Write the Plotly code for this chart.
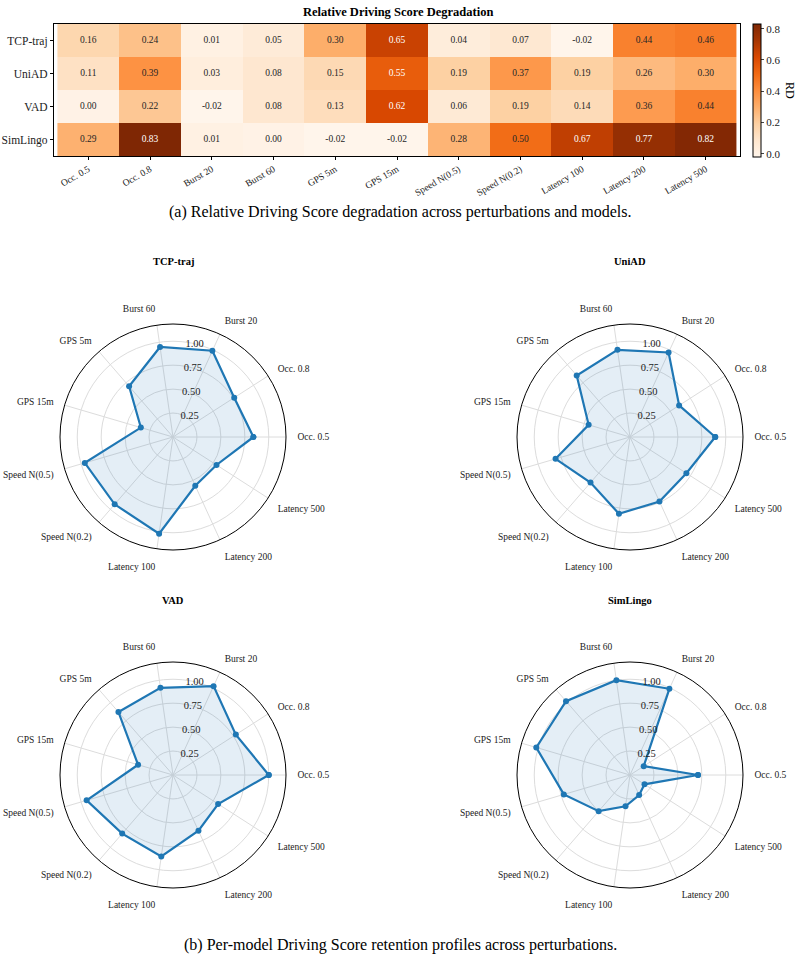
import plotly.graph_objects as go

FONT = "Liberation Serif"

perturbations = ["Occ. 0.5", "Occ. 0.8", "Burst 20", "Burst 60", "GPS 5m", "GPS 15m",
                 "Speed N(0.5)", "Speed N(0.2)", "Latency 100", "Latency 200", "Latency 500"]
models = ["TCP-traj", "UniAD", "VAD", "SimLingo"]

# Relative Driving Score degradation (heatmap)
rd_tcp = [0.16, 0.24, 0.01, 0.05, 0.30, 0.65, 0.04, 0.07, -0.02, 0.44, 0.46]
rd_uniad = [0.11, 0.39, 0.03, 0.08, 0.15, 0.55, 0.19, 0.37, 0.19, 0.26, 0.30]
rd_vad = [0.00, 0.22, -0.02, 0.08, 0.13, 0.62, 0.06, 0.19, 0.14, 0.36, 0.44]
rd_simlingo = [0.29, 0.83, 0.01, 0.00, -0.02, -0.02, 0.28, 0.50, 0.67, 0.77, 0.82]

# Driving Score retention (radar)
ret_tcp = [0.84, 0.76, 0.99, 0.95, 0.70, 0.35, 0.96, 0.93, 1.02, 0.56, 0.54]
ret_uniad = [0.89, 0.61, 0.97, 0.92, 0.85, 0.45, 0.81, 0.63, 0.81, 0.74, 0.70]
ret_vad = [1.00, 0.78, 1.02, 0.92, 0.87, 0.38, 0.94, 0.81, 0.86, 0.64, 0.56]
ret_simlingo = [0.71, 0.17, 0.99, 1.00, 1.02, 1.02, 0.72, 0.50, 0.33, 0.23, 0.18]

radial_ticks = [0.25, 0.50, 0.75, 1.00]
cbar_ticks = [0.0, 0.2, 0.4, 0.6, 0.8]

rd_rows = [rd_tcp, rd_uniad, rd_vad, rd_simlingo]
ret_rows = [ret_tcp, ret_uniad, ret_vad, ret_simlingo]

W, H = 800, 965
def py(px):
    return 1 - px / H

fig = go.Figure()

zmin = min(min(r) for r in rd_rows)
zmax = max(max(r) for r in rd_rows)

fig.add_trace(go.Heatmap(
    z=rd_rows, x=perturbations, y=models,
    colorscale="Oranges", zmin=zmin, zmax=zmax,
    xaxis="x", yaxis="y",
    colorbar=dict(
        x=753 / W, xanchor="left", xpad=0, ypad=0, thickness=8, thicknessmode="pixels",
        len=133 / H, lenmode="fraction", y=py(24), yanchor="top",
        outlinecolor="black", outlinewidth=1,
        ticks="outside", ticklen=3, tickvals=cbar_ticks, tickformat=".1f",
        tickfont=dict(family=FONT, size=11, color="#222"),
    ),
    hoverinfo="skip",
))

# cell labels
tx, ty, tt, tc = [], [], [], []
for m, row in zip(models, rd_rows):
    for p, v in zip(perturbations, row):
        tx.append(p); ty.append(m); tt.append(f"{v:.2f}")
        tc.append("white" if v > 0.52 else "#262626")
fig.add_trace(go.Scatter(
    x=tx, y=ty, text=tt, mode="text",
    textfont=dict(family=FONT, size=9.5, color=tc),
    xaxis="x", yaxis="y", showlegend=False, hoverinfo="skip",
))

fig.update_layout(
    xaxis=dict(domain=[54 / W, 740 / W], anchor="y", tickangle=-30,
               tickfont=dict(family=FONT, size=9.5, color="#222"),
               showline=True, mirror=True, linecolor="black", linewidth=1.2,
               ticks="outside", ticklen=3, tickcolor="black", showgrid=False, zeroline=False,
               categoryorder="array", categoryarray=perturbations),
    yaxis=dict(domain=[py(156), py(24)], anchor="x", autorange="reversed",
               tickfont=dict(family=FONT, size=11.5, color="#222"),
               showline=True, mirror=True, linecolor="black", linewidth=1.2,
               ticks="outside", ticklen=3, tickcolor="black", showgrid=False, zeroline=False,
               categoryorder="array", categoryarray=models),
)

# radar charts
centers = [(173, 437), (630, 437), (173, 775), (630, 775)]
R = 113
RMAX = 1.18
polar_names = ["polar", "polar2", "polar3", "polar4"]
annotations = []
for i, (m, vals) in enumerate(zip(models, ret_rows)):
    cx, cy = centers[i]
    name = polar_names[i]
    theta = perturbations + perturbations[:1]
    r = vals + vals[:1]
    fig.add_trace(go.Scatterpolar(
        r=r, theta=theta, mode="lines+markers", fill="toself",
        fillcolor="rgba(31,119,180,0.12)",
        line=dict(color="#1f77b4", width=2.2),
        marker=dict(color="#1f77b4", size=6),
        subplot=name, showlegend=False, hoverinfo="skip",
    ))
    fig.layout[name] = dict(
        domain=dict(x=[(cx - R) / W, (cx + R) / W], y=[py(cy + R), py(cy - R)]),
        bgcolor="white",
        angularaxis=dict(rotation=0, direction="counterclockwise",
                         categoryorder="array", categoryarray=perturbations,
                         showline=True, linecolor="black", linewidth=1,
                         gridcolor="#dcdcdc", gridwidth=0.8,
                         ticks="outside", ticklen=9, tickcolor="rgba(0,0,0,0)",
                         tickfont=dict(family=FONT, size=9.5, color="#222")),
        radialaxis=dict(range=[0, RMAX], tickvals=radial_ticks, tickformat=".2f",
                        angle=86, tickangle=86, side="clockwise",
                        showline=False, ticks="", gridcolor="#dcdcdc", gridwidth=0.8,
                        tickfont=dict(family=FONT, size=10.5, color="#222")),
    )
    annotations.append(dict(x=cx / W, y=py(cy - 175), xref="paper", yref="paper",
                            xanchor="center", yanchor="middle",
                            text=f"<b>{m}</b>", showarrow=False,
                            font=dict(family=FONT, size=10.5, color="black")))

annotations += [
    dict(x=398 / W, y=py(12), xref="paper", yref="paper", xanchor="center", yanchor="middle",
         text="<b>Relative Driving Score Degradation</b>", showarrow=False,
         font=dict(family=FONT, size=12.5, color="black")),
    dict(x=790 / W, y=py(90), xref="paper", yref="paper", xanchor="center", yanchor="middle",
         text="RD", textangle=90,
         showarrow=False, font=dict(family=FONT, size=12, color="black")),
    dict(x=400 / W, y=py(212), xref="paper", yref="paper", xanchor="center", yanchor="middle",
         text="(a) Relative Driving Score degradation across perturbations and models.",
         showarrow=False, font=dict(family=FONT, size=16, color="black")),
    dict(x=400 / W, y=py(945), xref="paper", yref="paper", xanchor="center", yanchor="middle",
         text="(b) Per-model Driving Score retention profiles across perturbations.",
         showarrow=False, font=dict(family=FONT, size=16, color="black")),
]

fig.update_layout(
    width=W, height=H, margin=dict(l=0, r=0, t=0, b=0),
    paper_bgcolor="white", plot_bgcolor="white",
    annotations=annotations, showlegend=False,
    font=dict(family=FONT),
)

fig.write_html("out.html")
